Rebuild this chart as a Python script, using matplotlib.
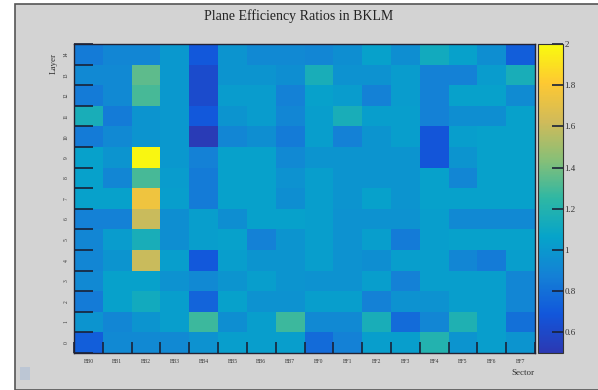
import numpy as np
import matplotlib.pyplot as plt
from matplotlib.colors import LinearSegmentedColormap
from matplotlib.patches import Rectangle

sectors = ['BB0', 'BB1', 'BB2', 'BB3', 'BB4', 'BB5', 'BB6', 'BB7',
           'BF0', 'BF1', 'BF2', 'BF3', 'BF4', 'BF5', 'BF6', 'BF7']
layers = list(range(15))

# rows = layer 0 .. 14, columns = BB0 .. BF7
ratios = [
    [0.72, 0.92, 0.92, 0.92, 0.97, 1.03, 1.03, 1.03, 0.78, 0.88, 1.03, 1.03, 1.20, 0.98, 1.03, 0.98],  # 0
    [0.98, 0.90, 0.98, 1.03, 1.28, 0.95, 1.03, 1.28, 0.92, 0.92, 1.15, 0.78, 0.90, 1.18, 1.03, 0.80],  # 1
    [0.85, 1.05, 1.12, 1.03, 0.75, 1.05, 0.97, 0.97, 1.03, 1.03, 0.88, 0.97, 0.97, 1.03, 1.03, 0.90],  # 2
    [0.92, 1.05, 1.05, 0.97, 0.92, 0.98, 1.03, 0.98, 0.97, 0.97, 1.03, 0.88, 1.03, 1.03, 1.03, 0.90],  # 3
    [0.90, 0.98, 1.60, 1.03, 0.70, 1.03, 0.98, 0.98, 1.03, 0.97, 0.95, 1.03, 1.03, 0.90, 0.85, 1.03],  # 4
    [0.90, 1.02, 1.15, 0.95, 1.03, 1.05, 0.88, 0.98, 1.03, 0.97, 1.03, 0.85, 1.03, 1.05, 1.05, 1.05],  # 5
    [0.88, 0.88, 1.60, 0.95, 1.03, 0.95, 1.05, 1.05, 1.03, 0.97, 0.97, 0.97, 1.03, 0.92, 0.92, 0.92],  # 6
    [1.05, 1.05, 1.75, 1.03, 0.85, 1.05, 1.05, 0.95, 1.03, 0.98, 1.05, 0.98, 1.05, 1.05, 1.05, 1.05],  # 7
    [1.05, 0.90, 1.30, 1.02, 0.85, 1.05, 1.05, 0.97, 1.03, 0.98, 0.98, 0.98, 1.05, 0.90, 1.05, 1.05],  # 8
    [1.05, 0.98, 1.98, 1.00, 0.88, 1.05, 1.05, 0.92, 0.98, 0.98, 0.98, 0.98, 0.68, 0.98, 1.05, 1.05],  # 9
    [0.85, 0.92, 0.98, 1.00, 0.52, 0.90, 0.95, 0.85, 1.03, 0.88, 0.98, 1.03, 0.68, 1.03, 1.05, 1.05],  # 10
    [1.15, 0.85, 0.98, 1.00, 0.70, 0.98, 1.02, 0.90, 1.03, 1.15, 1.03, 1.03, 0.88, 0.95, 0.95, 1.05],  # 11
    [0.85, 0.92, 1.30, 1.00, 0.62, 1.02, 1.02, 0.88, 1.05, 1.02, 0.88, 1.02, 0.88, 1.05, 1.05, 0.93],  # 12
    [0.92, 0.92, 1.35, 1.00, 0.62, 0.98, 0.98, 0.95, 1.15, 0.97, 0.97, 1.02, 0.88, 0.88, 1.02, 1.15],  # 13
    [0.85, 0.90, 0.90, 1.00, 0.70, 0.98, 0.92, 0.92, 0.90, 0.95, 1.05, 0.95, 1.12, 1.05, 0.95, 0.72],  # 14
]

# ROOT kBird-like palette (low end a bit bluer, as in the picture)
stops = [0.0, 0.125, 0.25, 0.375, 0.5, 0.625, 0.75, 0.875, 1.0]
red = [0.17, 0.07, 0.0780, 0.0232, 0.1802, 0.5301, 0.8186, 0.9956, 0.9764]
green = [0.22, 0.34, 0.5041, 0.6419, 0.7178, 0.7492, 0.7328, 0.7862, 0.9832]
blue = [0.70, 0.86, 0.8385, 0.7914, 0.6425, 0.4662, 0.3499, 0.1968, 0.0539]
bird = LinearSegmentedColormap.from_list(
    'bird', list(zip(stops, zip(red, green, blue))), N=255)

serif = ['Liberation Serif', 'DejaVu Serif']
tick_col = '#1a2238'

fig = plt.figure(figsize=(5.98, 3.90), dpi=100, facecolor='white')

# ROOT canvas background
fig.patches.append(Rectangle((15 / 598, 0), 1, 1 - 4 / 390, transform=fig.transFigure,
                             facecolor='#d3d3d3', edgecolor='#555555', linewidth=1.2,
                             zorder=-10))
fig.patches.append(Rectangle((20 / 598, 10 / 390), 10 / 598, 13 / 390, transform=fig.transFigure,
                             facecolor='#bcc6d4', edgecolor='none', zorder=-5))

ax = fig.add_axes([74 / 598, 37 / 390, 461 / 598, 309 / 390])
cax = fig.add_axes([538 / 598, 37 / 390, 25 / 598, 309 / 390])

data = np.array(ratios)
x_edges = np.arange(len(sectors) + 1)
y_edges = np.arange(len(layers) + 1)
mesh = ax.pcolormesh(x_edges, y_edges, data, cmap=bird, vmin=0.5, vmax=2.0)
ax.set_xlim(0, len(sectors))
ax.set_ylim(0, len(layers))

ax.set_xticks(x_edges)
ax.set_xticklabels([])
ax.set_xticks(np.arange(len(sectors)) + 0.5, minor=True)
ax.set_xticklabels(sectors, minor=True, fontsize=4, family=serif)
ax.set_yticks(y_edges)
ax.set_yticklabels([])
ax.set_yticks(np.arange(len(layers)) + 0.5, minor=True)
ax.set_yticklabels([str(l) for l in layers], minor=True, fontsize=4, family=serif,
                   rotation=90, va='center')
ax.tick_params(which='major', direction='in', color=tick_col, width=1.2)
ax.tick_params(axis='x', which='major', length=8)
ax.tick_params(axis='y', which='major', length=14)
ax.tick_params(which='minor', length=0, pad=4, labelcolor='#333333')
for s in ax.spines.values():
    s.set_color('#222233')
    s.set_linewidth(1.0)

cb = fig.colorbar(mesh, cax=cax)
cb.set_ticks([0.6, 0.8, 1.0, 1.2, 1.4, 1.6, 1.8, 2.0])
cb.set_ticklabels(['0.6', '0.8', '1', '1.2', '1.4', '1.6', '1.8', '2'])
cb.ax.tick_params(direction='in', length=8, width=1.2, color=tick_col, labelsize=6.5,
                  pad=1, labelcolor='#333333')
for lab in cb.ax.get_yticklabels():
    lab.set_family(serif)
cb.outline.set_edgecolor('#333333')
cb.outline.set_linewidth(0.8)

fig.text(0.5, 1 - 16 / 390, 'Plane Efficiency Ratios in BKLM', ha='center', va='center',
         fontsize=10, family=serif, color='#222222')
fig.text(523 / 598, 1 - 373 / 390, 'Sector', ha='center', va='center',
         fontsize=6.5, family=serif, color='#333333')
fig.text(54 / 598, 1 - 63 / 390, 'Layer', ha='center', va='center', rotation=90,
         fontsize=6.5, family=serif, color='#333333')

fig.savefig('out.png', dpi=100, facecolor=fig.get_facecolor())
